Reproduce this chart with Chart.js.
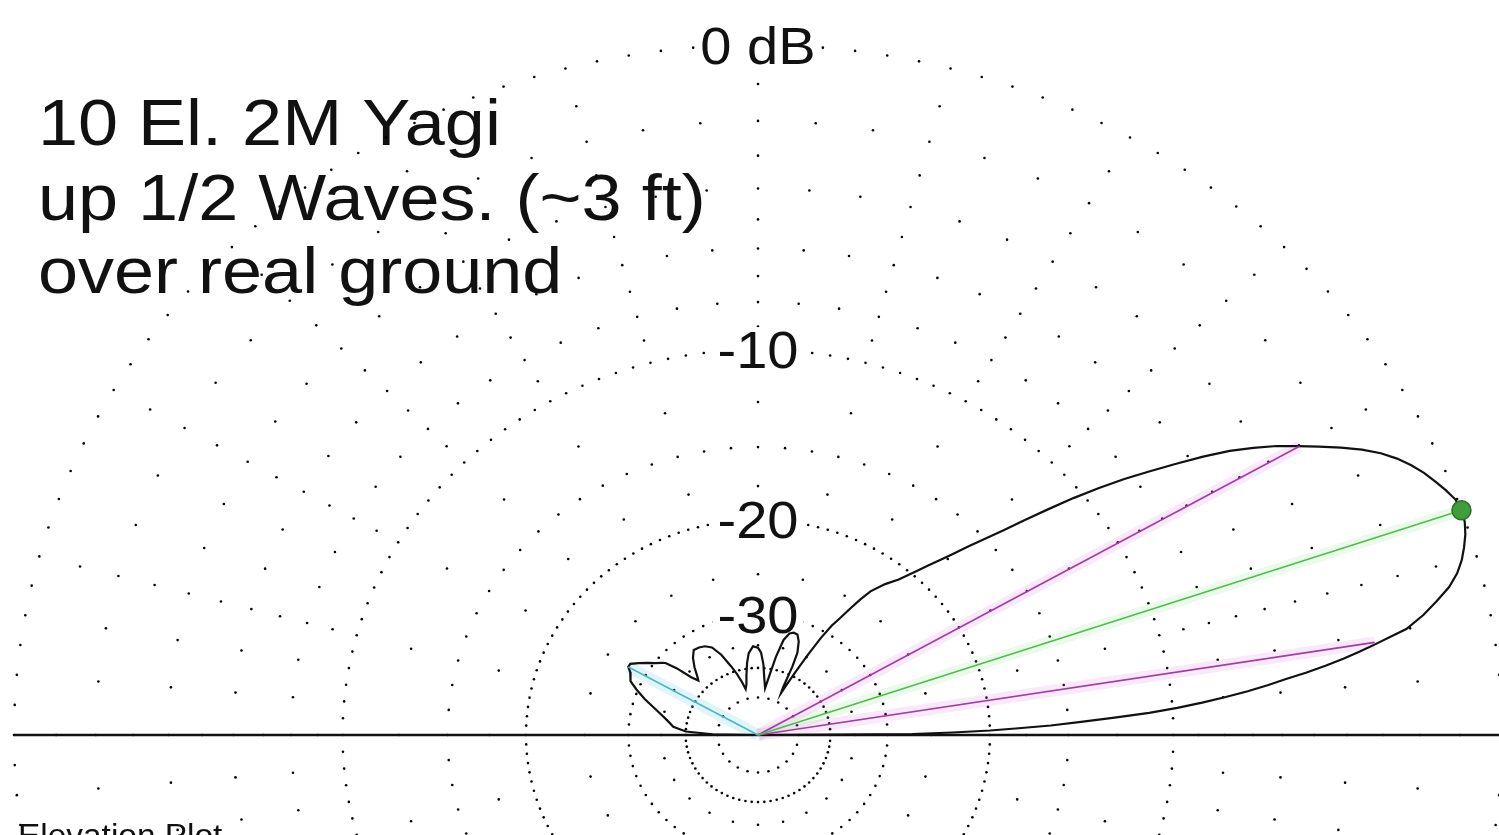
<!DOCTYPE html>
<html>
<head>
<meta charset="utf-8">
<title>10 El. 2M Yagi - Elevation Plot</title>
<script src="https://cdn.jsdelivr.net/npm/chart.js@4.4.1/dist/chart.umd.min.js"></script>
<style>
    html, body { margin: 0; padding: 0; background: #fff; }
    #wrap { position: relative; width: 1499px; height: 835px; }
</style>
</head>
<body>
<div id="wrap"><canvas id="plot"></canvas></div>
<script>
// ----------------------
//  DATA
// ----------------------

//  ELEVATION PATTERN (angle in degrees, gain in dB relative to max)
const elevAngles = [
    0, 0.4, 0.8, 1.2, 1.6, 2, 2.5, 3, 3.5, 4, 4.5, 5, 5.5, 6, 6.5, 7, 7.5, 8, 8.5, 9, 9.5, 10,
    11, 12, 13, 14, 15, 16, 17, 18, 19, 20, 21, 22, 23, 24, 25, 26, 27, 28, 29, 30,
    31, 32, 33, 34, 35, 36, 37, 38, 39, 40, 41, 42, 43, 44, 45, 46, 47, 48, 50, 52, 54, 55,
    56, 57, 58, 59, 60, 61, 62, 63, 64, 65, 66, 68, 70, 72, 74, 76, 78, 80, 82, 84, 86, 88,
    90, 93, 96, 98, 100, 102, 104, 106, 108, 110, 113, 116, 119, 122, 125, 128, 131, 134,
    135.5, 137, 138.5, 140, 141, 143, 145, 147, 149, 150.5, 152, 154, 155.5, 158, 161, 164,
    167, 170, 174, 177, 179, 180
];
const elevGain = [
    -99, -27, -23, -20, -18, -16, -14.3, -12.6, -11, -9.8, -8.8, -7.9, -7.1, -6.4, -5.8, -5.1, -4.5, -3.95, -3.45, -3.0, -2.55, -2.1,
    -1.6, -1.2, -0.82, -0.55, -0.36, -0.22, -0.1, -0.02, 0, -0.04, -0.17, -0.32, -0.48, -0.68, -0.92, -1.22, -1.6, -2.05, -2.55, -3.05,
    -3.55, -4.15, -4.8, -5.6, -6.5, -7.4, -8.3, -9.3, -10.4, -11.6, -12.8, -14.0, -15.0, -16.0, -17.0, -17.9, -18.7, -19.5, -21.0, -22.0, -23.3, -24.5,
    -26, -27.5, -28.8, -31, -34.5, -38.5, -42, -46, -44, -38, -35, -33, -32, -31.9, -32.2, -33.5, -37, -42, -46, -43, -39, -36.5,
    -35.5, -35.2, -36.5, -38.6, -41.5, -44.5, -46, -43, -40.5, -38.5, -35.5, -33.6, -32.9, -32.6, -32.5, -33.5, -35, -36.8,
    -37.5, -36, -33, -31.2, -30.8, -30.1, -29.2, -28.4, -27.6, -27.6, -28.1, -28.4, -28.7, -29.8, -31.3, -33,
    -34.5, -35.8, -37.2, -40, -48, -99
];

//  MARKERS
const peakAngle = 19.0;
const peakGain = 0;
const halfPowerAngles = [9.2, 29.9];
const halfPowerGain = -3;
const rearAngle = 150.5;
const rearGain = -27.6;

//  GRID RINGS (dB) AND DOT SPACING ALONG EACH RING (degrees)
const ringLevels = [0, -1, -2, -3, -4, -5, -6, -7, -8, -9, -10, -12.5, -15, -17.5, -20, -25, -30, -35, -40, -50];
const ringSteps  = [2.5, 15, 5, 15, 5, 15, 5, 15, 5, 15, 2.5, 15, 5, 15, 2.5, 15, 5, 15, 5, 15];

//  RING LABELS
const ringLabelLevels = [0, -10, -20, -30];
const ringLabels = ['0 dB', '-10', '-20', '-30'];

//  TEXT
const titleLines = ['10 El. 2M Yagi', 'up 1/2 Waves. (~3 ft)', 'over real ground'];
const plotName = 'Elevation Plot';

// ----------------------
//  ARRL LOG SCALE
// ----------------------
function arrlRadius(db) {
    return Math.pow(0.89, -db / 2);
}

function toXY(angle, db) {
    const r = arrlRadius(db);
    const a = angle * Math.PI / 180;
    return { x: r * Math.cos(a), y: r * Math.sin(a) };
}

// plot centre sits at (758, 735); outer ring is 744 px wide, 690 px tall
const X_MIN = -758 / 744, X_MAX = (1499 - 758) / 744;
const Y_MIN = -(835 - 735) / 690, Y_MAX = 735 / 690;
const STRETCH = 1.078;

// ----------------------
//  DATASETS
// ----------------------
let gridDots = [];
ringLevels.forEach((level, i) => {
    for (let a = 0; a < 360; a += ringSteps[i]) {
        gridDots.push(toXY(a, level));
    }
});

const patternPts = elevAngles.map((a, i) => toXY(a, elevGain[i]));
const origin = { x: 0, y: 0 };
const peakPt = toXY(peakAngle, peakGain);
const hpPts = halfPowerAngles.map(a => toXY(a, halfPowerGain));
const rearPt = toXY(rearAngle, rearGain);

function lineSet(data, color, width, order) {
    return {
        data: data,
        showLine: true,
        borderColor: color,
        borderWidth: width,
        pointRadius: 0,
        tension: 0,
        fill: false,
        order: order,
    };
}

const datasets = [
    {
        data: gridDots,
        showLine: false,
        pointRadius: 1.3,
        pointBorderWidth: 0,
        pointBackgroundColor: '#000',
        order: 20,
    },
    lineSet([{ x: -1, y: 0 }, { x: 1, y: 0 }], '#111', 2.6, 18),
    // soft colour bleed round the marker lines
    lineSet([origin, hpPts[0]], 'rgba(225, 120, 225, 0.16)', 12, 12),
    lineSet([origin, hpPts[1]], 'rgba(225, 120, 225, 0.16)', 12, 12),
    lineSet([origin, peakPt], 'rgba(120, 220, 120, 0.14)', 12, 12),
    lineSet([origin, rearPt], 'rgba(110, 210, 225, 0.22)', 12, 12),
    lineSet(patternPts, '#111', 2.2, 8),
    lineSet([origin, hpPts[0]], '#a23ca6', 1.6, 6),
    lineSet([origin, hpPts[1]], '#a23ca6', 1.6, 6),
    lineSet([origin, peakPt], '#4cbf48', 1.6, 5),
    lineSet([origin, rearPt], '#4db6c8', 1.6, 5),
    {
        data: [peakPt],
        showLine: false,
        pointRadius: 9.5,
        pointBackgroundColor: '#3f9e3a',
        pointBorderColor: '#2c6e2a',
        pointBorderWidth: 1.5,
        order: 1,
    },
];

// ----------------------
//  TEXT PLUGINS
// ----------------------
function stretchedText(ctx, text, x, y, size, sx, align) {
    ctx.save();
    ctx.font = size + 'px "Liberation Sans", Arial, sans-serif';
    ctx.textBaseline = 'alphabetic';
    const w = ctx.measureText(text).width * sx;
    const left = align === 'center' ? x - w / 2 : x;
    ctx.translate(left, y);
    ctx.scale(sx, 1);
    ctx.fillStyle = '#111';
    ctx.fillText(text, 0, 0);
    ctx.restore();
    return w;
}

const titlePlugin = {
    id: 'titleText',
    beforeDatasetsDraw(chart) {
        const ctx = chart.ctx;
        const baselines = [145, 220, 293];
        titleLines.forEach((line, i) => {
            stretchedText(ctx, line, 38, baselines[i], 64, 1.125, 'left');
        });
        // plot name, mostly below the bottom edge
        stretchedText(ctx, plotName, 18, 846, 31, STRETCH, 'left');
    }
};

// ring labels go over the grid dots but under the pattern
const ringLabelPlugin = {
    id: 'ringLabels',
    afterDatasetDraw(chart, args) {
        if (args.index !== 1) return;
        const ctx = chart.ctx;
        const xs = chart.scales.x, ys = chart.scales.y;
        const size = 52;
        const cap = size * 0.716;
        ringLabelLevels.forEach((level, i) => {
            const cx = xs.getPixelForValue(0);
            const cy = ys.getPixelForValue(arrlRadius(level));
            ctx.save();
            ctx.font = size + 'px "Liberation Sans", Arial, sans-serif';
            const w = ctx.measureText(ringLabels[i]).width * STRETCH;
            ctx.fillStyle = '#fff';
            ctx.fillRect(cx - w / 2 - 5, cy - cap / 2 - 4, w + 10, cap + 8);
            ctx.restore();
            stretchedText(ctx, ringLabels[i], cx, cy + cap / 2, size, STRETCH, 'center');
        });
    }
};

// ----------------------
//  CHART
// ----------------------
const ctx = document.getElementById('plot').getContext('2d');
new Chart(ctx, {
    type: 'scatter',
    data: { datasets: datasets },
    options: {
        responsive: true,
        maintainAspectRatio: false,
        animation: false,
        events: [],
        layout: { padding: 0, autoPadding: false },
        plugins: {
            legend: { display: false },
            tooltip: { enabled: false },
        },
        scales: {
            x: { type: 'linear', min: X_MIN, max: X_MAX, display: false },
            y: { type: 'linear', min: Y_MIN, max: Y_MAX, display: false },
        },
    },
    plugins: [titlePlugin, ringLabelPlugin],
});
</script>
</body>
</html>
